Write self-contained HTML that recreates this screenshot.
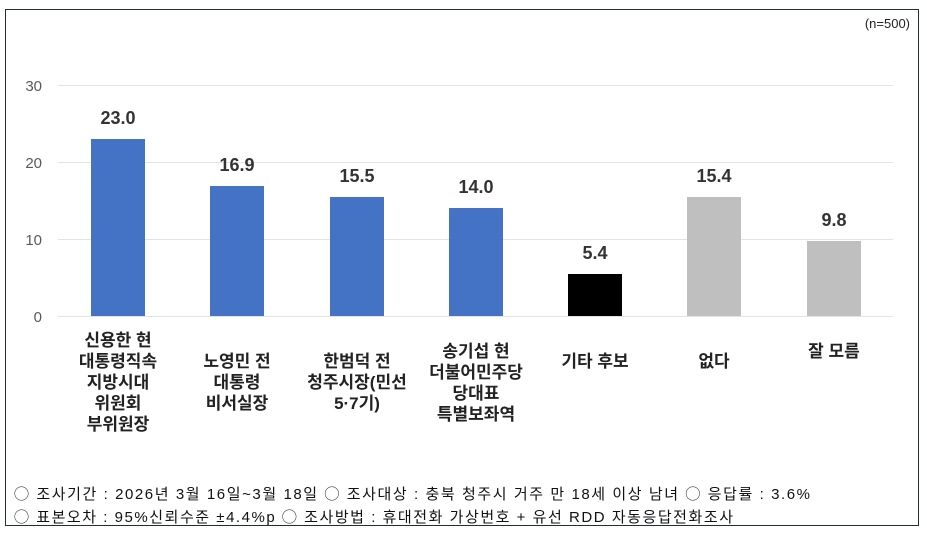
<!DOCTYPE html>
<html><head><meta charset="utf-8"><style>
body{margin:0;width:927px;height:535px;background:#fff;overflow:hidden;font-family:"Liberation Sans","Noto Sans CJK KR",sans-serif}
</style></head><body>
<svg width="927" height="535" xmlns="http://www.w3.org/2000/svg" style="position:absolute;left:0;top:0">
<rect x="5.5" y="9.5" width="913" height="516" fill="#fff" stroke="#1f2d3d" stroke-width="1"/>
<text x="910" y="28" font-size="13" text-anchor="end" fill="#222">(n=500)</text>
<g stroke="#e3e3e3" stroke-width="1">
<line x1="58" y1="85.5" x2="893" y2="85.5"/>
<line x1="58" y1="162.5" x2="893" y2="162.5"/>
<line x1="58" y1="239.5" x2="893" y2="239.5"/>
<line x1="58" y1="316.5" x2="893" y2="316.5"/>
</g>
<g font-size="15" fill="#595959" text-anchor="end">
<text x="42" y="91">30</text><text x="42" y="168">20</text><text x="42" y="245">10</text><text x="42" y="322">0</text>
</g>
<g>
<rect x="91" y="139" width="54" height="177" fill="#4472c4"/>
<rect x="210" y="186" width="54" height="130" fill="#4472c4"/>
<rect x="330" y="197" width="54" height="119" fill="#4472c4"/>
<rect x="449" y="208" width="54" height="108" fill="#4472c4"/>
<rect x="568" y="274" width="54" height="42" fill="#000"/>
<rect x="687" y="197" width="54" height="119" fill="#bfbfbf"/>
<rect x="807" y="241" width="54" height="75" fill="#bfbfbf"/>
</g>
<g font-size="18" font-weight="bold" fill="#333" text-anchor="middle">
<text x="118" y="124">23.0</text><text x="237" y="171">16.9</text><text x="357" y="182">15.5</text>
<text x="476" y="193">14.0</text><text x="595" y="259">5.4</text><text x="714" y="182">15.4</text><text x="834" y="226">9.8</text>
</g>
<g font-size="17" font-weight="bold" fill="#222" text-anchor="middle">
<text x="118" y="346">신용한 현</text><text x="118" y="367">대통령직속</text><text x="118" y="388">지방시대</text><text x="118" y="409">위원회</text><text x="118" y="430">부위원장</text>
<text x="237" y="367">노영민 전</text><text x="237" y="388">대통령</text><text x="237" y="409">비서실장</text>
<text x="357" y="367">한범덕 전</text><text x="357" y="388">청주시장(민선</text><text x="357" y="409">5·7기)</text>
<text x="476" y="357">송기섭 현</text><text x="476" y="378">더불어민주당</text><text x="476" y="399">당대표</text><text x="476" y="420">특별보좌역</text>
<text x="595" y="367">기타 후보</text>
<text x="714" y="367">없다</text>
<text x="834" y="357">잘 모름</text>
</g>
<g font-size="15" fill="#111">
<text x="14" y="499" textLength="796" lengthAdjust="spacing">◯ 조사기간 : 2026년 3월 16일~3월 18일 ◯ 조사대상 : 충북  청주시  거주  만  18세  이상  남녀 ◯ 응답률 : 3.6%</text>
<text x="14" y="522" textLength="719" lengthAdjust="spacing">◯ 표본오차 : 95%신뢰수준  ±4.4%p ◯ 조사방법 : 휴대전화  가상번호  +  유선  RDD  자동응답전화조사</text>
</g>
</svg>
</body></html>
